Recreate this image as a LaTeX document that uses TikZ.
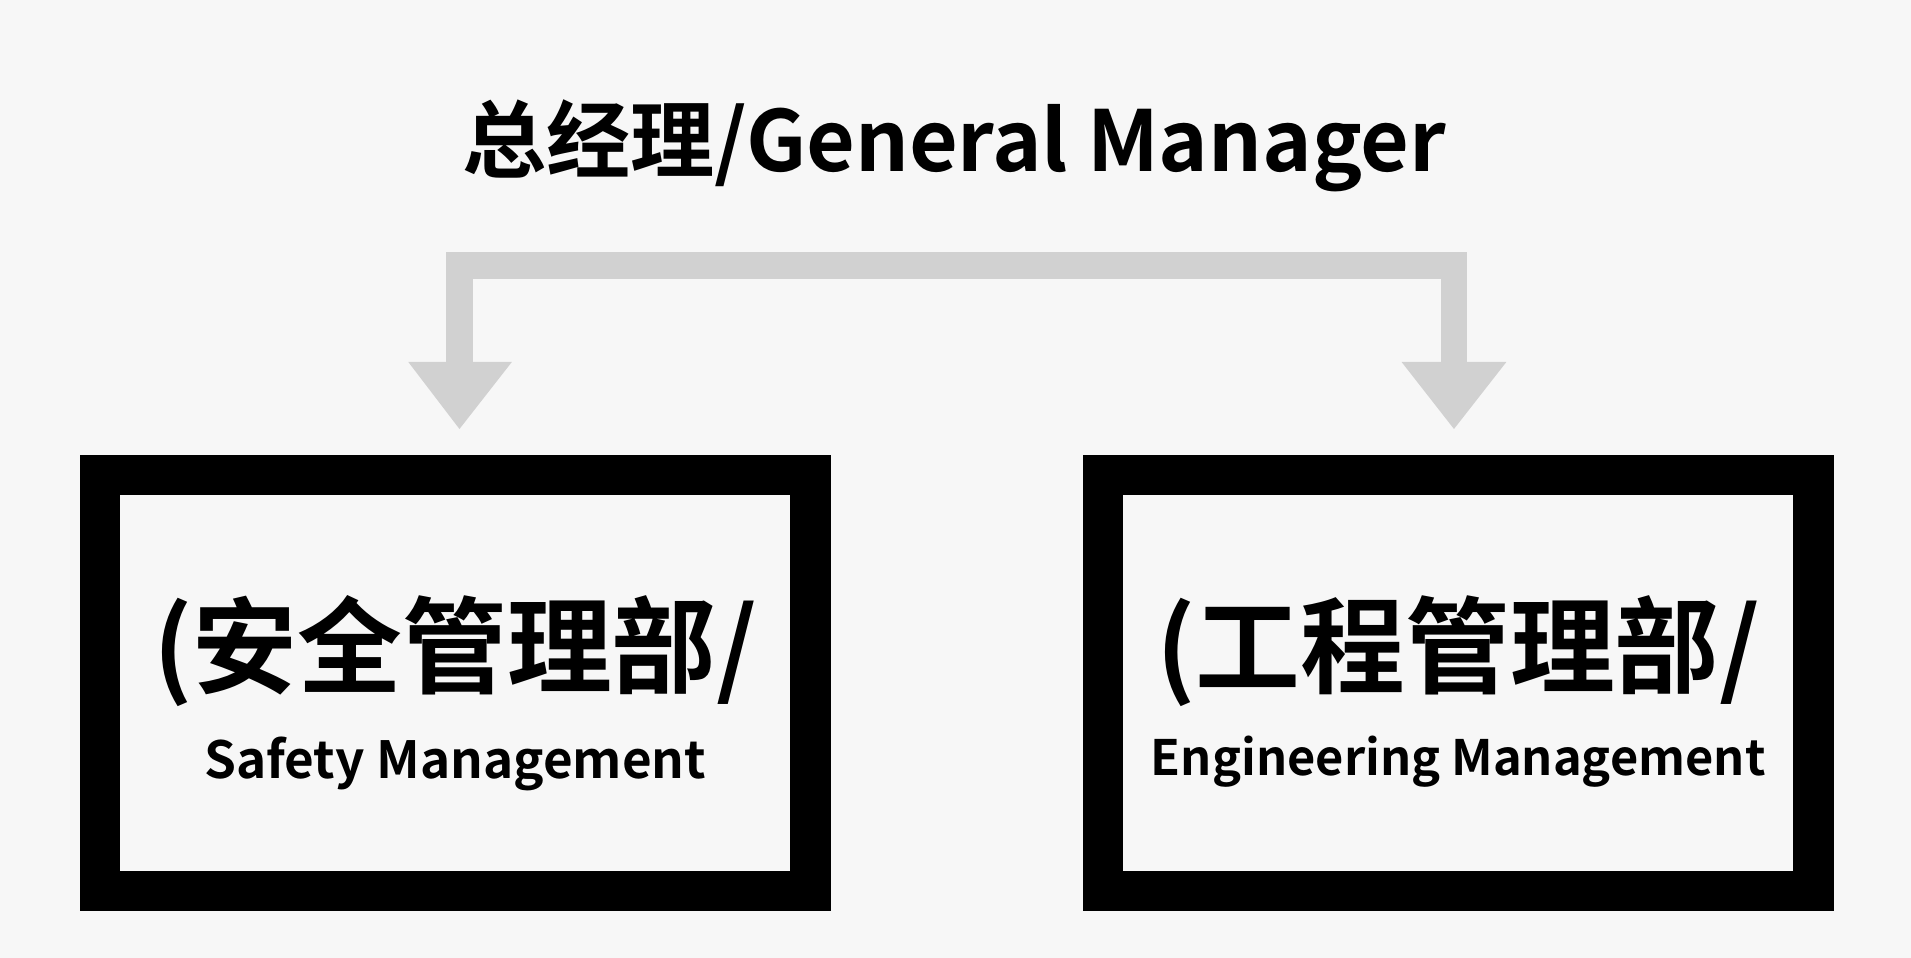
\documentclass[tikz,border=0pt]{standalone}
\usepackage{fontspec}
\setmainfont{Noto Sans CJK SC}
\newfontfamily\cjkbold{Noto Sans CJK SC Bold}
\tikzset{
  box/.style={draw=black,line width=33pt,minimum width=583pt,minimum height=341pt,inner sep=0pt},
  conn/.style={draw=black!18,line width=22pt},
  tip/.style={fill=black!18},
}
\begin{document}
\begin{tikzpicture}[x=1pt,y=-1pt]
\fill[black!3] (0,0) rectangle (1568,786);
\useasboundingbox (0,0) rectangle (1568,786);
\node (gm) at (783,120) {\fontsize{69}{80}\selectfont\cjkbold 总经理/General Manager};
\node[box] (safe) at (373.5,560.5) {};
\node[box] (eng) at (1196.5,560.5) {};
\node at (373.5,534) {\fontsize{86}{100}\selectfont\cjkbold (安全管理部/};
\node at (373.5,627) {\fontsize{42}{50}\selectfont\cjkbold Safety Management};
\node at (1196.5,534) {\fontsize{86}{100}\selectfont\cjkbold (工程管理部/};
\node at (1196.5,625) {\fontsize{40}{50}\selectfont\cjkbold Engineering Management};
\coordinate (tl) at (377,218);
\coordinate (tr) at (1193,218);
\coordinate (al) at (377,300);
\coordinate (ar) at (1193,300);
\draw[conn] (al) -- (tl) -- (tr) -- (ar);
\fill[tip] (335,297) -- (420,297) -- (377,352) -- cycle;
\fill[tip] (1150,297) -- (1236,297) -- (1193,352) -- cycle;
\end{tikzpicture}
\end{document}
